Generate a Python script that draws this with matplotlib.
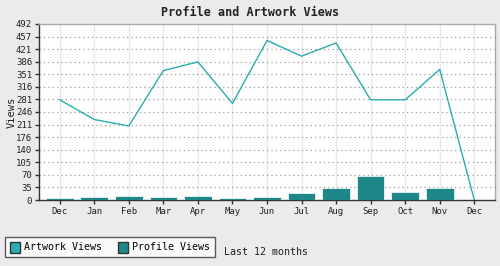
import matplotlib
matplotlib.use("Agg")
import matplotlib.pyplot as plt
from matplotlib.patches import Patch

months = ["Dec", "Jan", "Feb", "Mar", "Apr", "May", "Jun", "Jul", "Aug", "Sep", "Oct", "Nov", "Dec"]
artwork_views = [280, 225, 207, 362, 386, 270, 446, 402, 439, 280, 280, 365, 0]
profile_views = [5, 9, 10, 9, 12, 6, 9, 19, 34, 68, 23, 34, 0]
y_ticks = [0, 35, 70, 105, 140, 176, 211, 246, 281, 316, 351, 386, 421, 457, 492]

bg = "#ebebeb"
line_c = "#2aadad"
bar_c = "#1e8888"
font = ["DejaVu Sans Mono"]

fig = plt.figure(figsize=(5, 2.66), dpi=100, facecolor=bg)
ax = fig.add_axes([39/500, 1-200/266, 456/500, 176/266])
ax.set_facecolor("white")
x = list(range(len(months)))

ax.bar(x, profile_views, width=0.8, color=bar_c, edgecolor="white", linewidth=0.5, zorder=3)
ax.plot(x, artwork_views, color=line_c, linewidth=1, zorder=4)

ax.set_xlim(-0.6, len(months) - 0.4)
ax.set_ylim(0, 492)
ax.set_yticks(y_ticks)
ax.set_yticklabels([str(v) for v in y_ticks], fontsize=6.5, family=font)
ax.set_xticks(x)
ax.set_xticklabels(months, fontsize=6.5, family=font)
ax.tick_params(axis="both", length=3, width=1, color="#333333", pad=2, labelcolor="#222222")

for yv in y_ticks[1:-1]:
    ax.axhline(yv, color="#999999", linestyle=(0, (1, 2.5)), linewidth=0.9, zorder=1)
for xv in x:
    ax.axvline(xv, color="#e8e8e8", linewidth=1, zorder=0.5)

for s in ["left", "bottom"]:
    ax.spines[s].set_color("#333333")
    ax.spines[s].set_linewidth(1)
for s in ["top", "right"]:
    ax.spines[s].set_color("#aaaaaa")
    ax.spines[s].set_linewidth(1)

ax.set_ylabel("Views", fontsize=7.5, family=font, color="#222222")
ax.yaxis.set_label_coords(-0.048, 0.5)
fig.text(0.5, 1-12/266, "Profile and Artwork Views", ha="center", va="center",
         fontsize=8.5, fontweight="bold", family=font, color="#222222")

handles = [Patch(facecolor=line_c, edgecolor="#333333", label="Artwork Views"),
           Patch(facecolor=bar_c, edgecolor="#333333", label="Profile Views")]
leg = fig.legend(handles=handles, loc="lower left", bbox_to_anchor=(5/500, 1-257/266),
                 ncol=2, fancybox=False, frameon=True, prop={"family": font, "size": 7.2},
                 borderpad=0.45, handlelength=1.0, handleheight=1.3, handletextpad=0.5,
                 columnspacing=1.5, borderaxespad=0)
leg.get_frame().set_edgecolor("#333333")
leg.get_frame().set_linewidth(1)
leg.get_frame().set_facecolor("white")

fig.text(224/500, 1-255/266, "Last 12 months", ha="left", va="baseline",
         fontsize=7.2, family=font, color="#222222")

fig.savefig("out.png", dpi=100, facecolor=bg)
